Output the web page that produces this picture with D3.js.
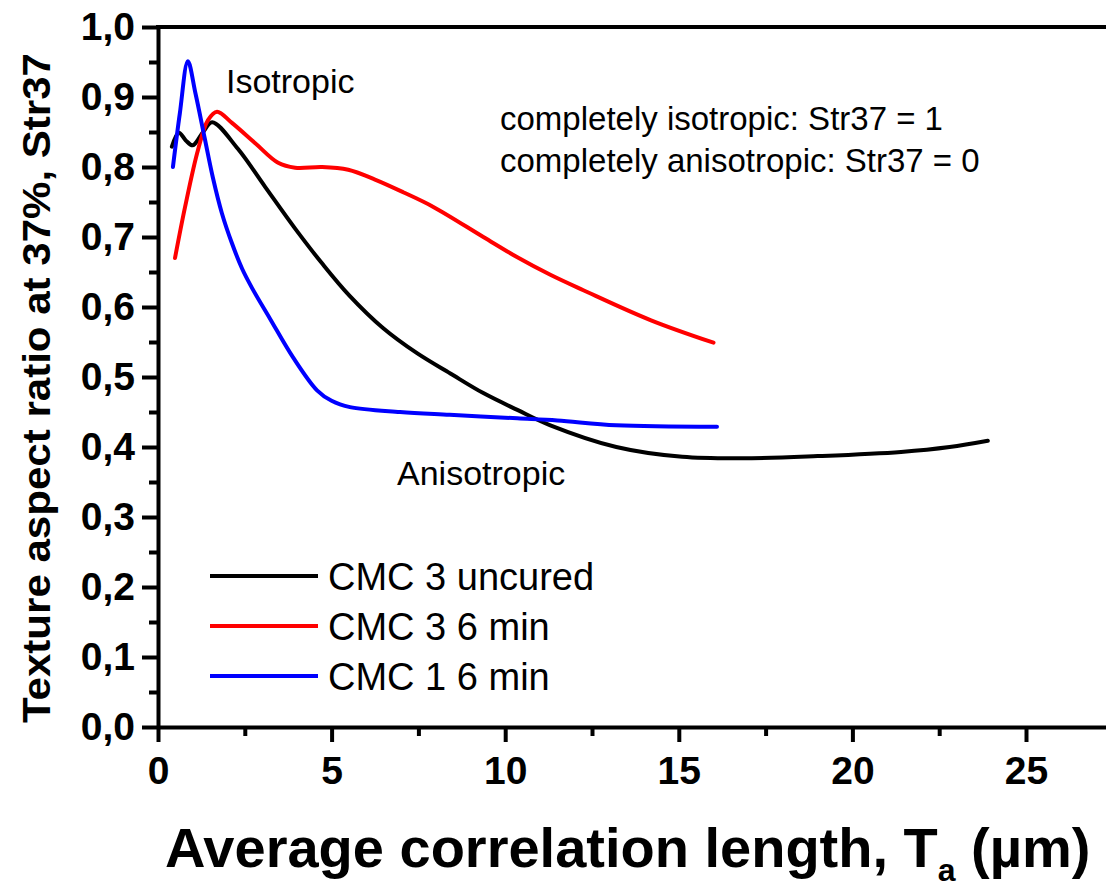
<!DOCTYPE html>
<html>
<head>
<meta charset="utf-8">
<script src="https://cdn.jsdelivr.net/npm/d3@7"></script>
<style>
  body { margin: 0; background: #fff; }
  svg { display: block; font-family: "Liberation Sans", Arial, sans-serif; }
</style>
</head>
<body>
<div id="chart"></div>
<script>
// series
var seriesNames = ["CMC 3 uncured", "CMC 3 6 min", "CMC 1 6 min"];
var seriesColors = ["#000000", "#ff0000", "#0000ff"];

var uncuredT   = [0.40, 0.60, 0.80, 1.00, 1.30, 1.56, 2.30, 3.08, 3.95, 4.73, 5.50, 6.48, 7.46, 8.42, 9.37, 10.35, 11.3, 13.2, 15.1, 17.1, 19.0, 21.4, 22.8, 23.9];
var uncuredStr = [0.829, 0.849, 0.838, 0.831, 0.850, 0.864, 0.826, 0.772, 0.712, 0.662, 0.617, 0.570, 0.534, 0.505, 0.477, 0.453, 0.431, 0.400, 0.386, 0.384, 0.387, 0.393, 0.400, 0.409];

var cmc3T   = [0.49, 0.78, 1.15, 1.44, 1.70, 2.13, 2.80, 3.46, 3.95, 4.73, 5.48, 6.25, 7.06, 7.93, 9.37, 10.35, 11.3, 12.25, 14.2, 16.0];
var cmc3Str = [0.670, 0.743, 0.824, 0.867, 0.879, 0.863, 0.834, 0.806, 0.799, 0.800, 0.796, 0.782, 0.764, 0.743, 0.700, 0.671, 0.646, 0.624, 0.581, 0.549];

var cmc1T   = [0.43, 0.63, 0.86, 1.08, 1.35, 1.58, 1.84, 2.13, 2.42, 2.71, 3.23, 3.89, 4.58, 5.00, 5.53, 6.97, 8.40, 10.35, 11.5, 13.2, 16.1];
var cmc1Str = [0.800, 0.877, 0.951, 0.905, 0.840, 0.785, 0.734, 0.691, 0.655, 0.627, 0.583, 0.528, 0.481, 0.466, 0.457, 0.450, 0.446, 0.441, 0.438, 0.431, 0.429];

var xMajor = [0, 5, 10, 15, 20, 25];
var xMinor = [2.5, 7.5, 12.5, 17.5, 22.5, 27.5];
var yMajor = [0, 0.1, 0.2, 0.3, 0.4, 0.5, 0.6, 0.7, 0.8, 0.9, 1.0];
var yMinor = [0.05, 0.15, 0.25, 0.35, 0.45, 0.55, 0.65, 0.75, 0.85, 0.95];

var width = 1106, height = 890;
var plotLeft = 158, plotTop = 27, plotBottom = 727;

var svg = d3.select("#chart").append("svg")
    .attr("width", width)
    .attr("height", height);

var x = d3.scaleLinear().domain([0, 30]).range([plotLeft, plotLeft + 30 * 34.72]);
var y = d3.scaleLinear().domain([0, 1]).range([plotBottom, plotTop]);

// top frame line
svg.append("line")
    .attr("x1", plotLeft - 2).attr("x2", width)
    .attr("y1", plotTop).attr("y2", plotTop)
    .attr("stroke", "#000").attr("stroke-width", 4);

// y axis
svg.append("g")
    .attr("transform", "translate(" + plotLeft + ",0)")
    .call(d3.axisLeft(y).tickValues(yMajor).tickSize(16).tickSizeOuter(0).tickPadding(7)
        .tickFormat(function(d) { return d3.format(".1f")(d).replace(".", ","); }));
svg.append("g")
    .attr("transform", "translate(" + plotLeft + ",0)")
    .call(d3.axisLeft(y).tickValues(yMinor).tickSize(9).tickFormat(""))
    .select(".domain").remove();

// x axis
svg.append("g")
    .attr("transform", "translate(0," + plotBottom + ")")
    .call(d3.axisBottom(x).tickValues(xMajor).tickSize(15).tickSizeOuter(0).tickPadding(14)
        .tickFormat(function(d) { return d; }));
svg.append("g")
    .attr("transform", "translate(0," + plotBottom + ")")
    .call(d3.axisBottom(x).tickValues(xMinor).tickSize(9).tickFormat(""))
    .select(".domain").remove();

svg.selectAll(".domain, .tick line")
    .attr("stroke", "#000")
    .attr("stroke-width", 4);
svg.selectAll(".tick text")
    .attr("fill", "#000")
    .attr("font-size", "39px")
    .attr("font-weight", "bold")
    .attr("font-family", "Liberation Sans, Arial, sans-serif");

// axis titles
svg.append("text")
    .attr("transform", "translate(50,388) rotate(-90)")
    .attr("text-anchor", "middle")
    .attr("font-size", "38px")
    .attr("font-weight", "bold")
    .attr("textLength", 670)
    .attr("lengthAdjust", "spacingAndGlyphs")
    .text("Texture aspect ratio at 37%, Str37");

var xTitle = svg.append("text")
    .attr("x", 165)
    .attr("y", 867)
    .attr("font-size", "56px")
    .attr("font-weight", "bold");
xTitle.append("tspan").text("Average correlation length, T");
xTitle.append("tspan").attr("font-size", "32px").attr("dy", 14).text("a");
xTitle.append("tspan").attr("dy", -14).text(" (\u00b5m)");

// curves
var series = [
    { t: uncuredT, s: uncuredStr },
    { t: cmc3T, s: cmc3Str },
    { t: cmc1T, s: cmc1Str }
];

var line = d3.line()
    .x(function(d) { return x(d[0]); })
    .y(function(d) { return y(d[1]); })
    .curve(d3.curveCatmullRom.alpha(0.5));

series.forEach(function(ser, i) {
    var pts = ser.t.map(function(t, j) { return [t, ser.s[j]]; });
    svg.append("path")
        .datum(pts)
        .attr("fill", "none")
        .attr("stroke", seriesColors[i])
        .attr("stroke-width", 4)
        .attr("stroke-linecap", "round")
        .attr("stroke-linejoin", "round")
        .attr("d", line);
});

// legend
var legend = svg.append("g").attr("transform", "translate(210,576)");
seriesNames.forEach(function(name, i) {
    var row = legend.append("g").attr("transform", "translate(0," + (i * 50) + ")");
    row.append("line")
        .attr("x1", 0).attr("x2", 108)
        .attr("stroke", seriesColors[i])
        .attr("stroke-width", 4);
    row.append("text")
        .attr("x", 118)
        .attr("y", 14)
        .attr("font-size", "38px")
        .text(name);
});

// annotations
svg.append("text").attr("x", 226).attr("y", 93).attr("font-size", "34px").text("Isotropic");
svg.append("text").attr("x", 397).attr("y", 485).attr("font-size", "34px").text("Anisotropic");
svg.append("text").attr("x", 500).attr("y", 130).attr("font-size", "33px").text("completely isotropic: Str37 = 1");
svg.append("text").attr("x", 500).attr("y", 172).attr("font-size", "33px").text("completely anisotropic: Str37 = 0");
</script>
</body>
</html>
